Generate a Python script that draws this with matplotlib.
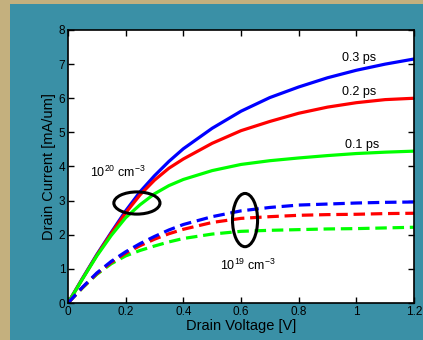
import matplotlib
matplotlib.use("Agg")
import matplotlib.pyplot as plt
from matplotlib.patches import Ellipse, Rectangle
import numpy as np

plt.rcParams['font.family'] = ['Liberation Sans', 'DejaVu Sans']
plt.rcParams['mathtext.default'] = 'regular'

# Drain voltage [V]
vd = [0, 0.05, 0.1, 0.15, 0.2, 0.25, 0.3, 0.35, 0.4, 0.5, 0.6, 0.7, 0.8, 0.9, 1.0, 1.1, 1.2]

# Doping 1e20 cm^-3, one curve per relaxation time
id_03ps_hi = [0, 0.72, 1.42, 2.07, 2.70, 3.26, 3.73, 4.15, 4.52, 5.12, 5.62, 6.02, 6.33, 6.60, 6.82, 7.00, 7.15]
id_02ps_hi = [0, 0.71, 1.40, 2.04, 2.64, 3.17, 3.60, 3.95, 4.22, 4.68, 5.05, 5.32, 5.56, 5.74, 5.87, 5.96, 6.00]
id_01ps_hi = [0, 0.70, 1.38, 1.98, 2.50, 2.88, 3.20, 3.44, 3.62, 3.88, 4.06, 4.17, 4.25, 4.32, 4.38, 4.42, 4.45]

# Doping 1e19 cm^-3
id_03ps_lo = [0, 0.46, 0.88, 1.22, 1.50, 1.74, 1.95, 2.14, 2.30, 2.53, 2.70, 2.80, 2.87, 2.90, 2.93, 2.95, 2.96]
id_02ps_lo = [0, 0.45, 0.86, 1.19, 1.46, 1.68, 1.87, 2.03, 2.16, 2.36, 2.48, 2.53, 2.57, 2.59, 2.60, 2.62, 2.63]
id_01ps_lo = [0, 0.44, 0.84, 1.15, 1.38, 1.54, 1.67, 1.79, 1.89, 2.02, 2.10, 2.13, 2.15, 2.17, 2.18, 2.20, 2.22]

teal = '#3a90a6'
tan = '#c4b07e'

fig = plt.figure(figsize=(4.23, 3.40), dpi=100)
fig.patch.set_facecolor(tan)
# teal panel behind the axes
panel = Rectangle((10/423, 0), 413/423, 336/340, transform=fig.transFigure,
                  facecolor=teal, edgecolor='none', zorder=-10)
fig.add_artist(panel)

ax = fig.add_axes([68/423, 37/340, 346/423, 273/340])
ax.set_facecolor('white')

lw = 2.3
ax.plot(vd, id_03ps_hi, color='#0000ff', lw=lw)
ax.plot(vd, id_02ps_hi, color='#ff0000', lw=lw)
ax.plot(vd, id_01ps_hi, color='#00ff00', lw=lw)
dash = (0, (3.6, 1.8))
ax.plot(vd, id_01ps_lo, color='#00ff00', lw=lw, linestyle=dash)
ax.plot(vd, id_02ps_lo, color='#ff0000', lw=lw, linestyle=dash)
ax.plot(vd, id_03ps_lo, color='#0000ff', lw=lw, linestyle=dash)

ax.add_patch(Ellipse((0.239, 2.93), 0.16, 0.65, fill=False, edgecolor='black', lw=2.2, zorder=5))
ax.add_patch(Ellipse((0.614, 2.43), 0.087, 1.56, fill=False, edgecolor='black', lw=2.2, zorder=5))

ax.text(0.174, 3.83, '10$^{20}$ cm$^{-3}$', fontsize=9, ha='center', va='center')
ax.text(0.625, 1.11, '10$^{19}$ cm$^{-3}$', fontsize=9, ha='center', va='center')
ax.text(1.01, 7.18, '0.3 ps', fontsize=9, ha='center', va='center')
ax.text(1.01, 6.19, '0.2 ps', fontsize=9, ha='center', va='center')
ax.text(1.02, 4.63, '0.1 ps', fontsize=9, ha='center', va='center')

ax.set_xlim(0, 1.2)
ax.set_ylim(0, 8)
ax.set_xticks([0, 0.2, 0.4, 0.6, 0.8, 1, 1.2])
ax.set_xticklabels(['0', '0.2', '0.4', '0.6', '0.8', '1', '1.2'])
ax.set_yticks(range(0, 9))
ax.tick_params(direction='in', top=True, right=True, length=4, width=1,
               labelsize=8.5, pad=2)
for s in ax.spines.values():
    s.set_linewidth(1.2)

ax.set_xlabel('Drain Voltage [V]', fontsize=10.5, labelpad=1)
ax.set_ylabel('Drain Current [mA/um]', fontsize=10.5, labelpad=2)

fig.savefig('out.png', dpi=100, facecolor=fig.get_facecolor())
